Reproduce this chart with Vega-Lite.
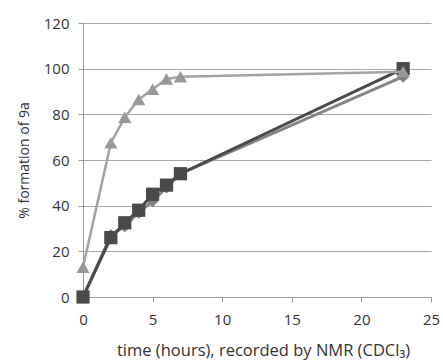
{
  "$schema": "https://vega.github.io/schema/vega-lite/v6.json",
  "width": 348,
  "height": 274,
  "autosize": {"type": "none"},
  "padding": {"left": 83, "top": 23, "right": 12, "bottom": 66},
  "background": "white",
  "config": {
    "view": {"stroke": null},
    "font": "Open Sans",
    "axis": {"labelFont": "Open Sans", "titleFont": "Open Sans", "labelColor": "#333", "titleColor": "#333", "titleFontWeight": "normal", "domainColor": "#999", "tickColor": "#999", "gridColor": "#a8a8a8", "gridWidth": 1, "labelFlush": false}
  },
  "data": {
    "values": [
      {"series": "diamond", "t": 0, "v": 0},
      {"series": "diamond", "t": 2, "v": 27},
      {"series": "diamond", "t": 3, "v": 31},
      {"series": "diamond", "t": 4, "v": 37},
      {"series": "diamond", "t": 5, "v": 42},
      {"series": "diamond", "t": 6, "v": 48},
      {"series": "diamond", "t": 7, "v": 54},
      {"series": "diamond", "t": 23, "v": 96.5},
      {"series": "square", "t": 0, "v": 0},
      {"series": "square", "t": 2, "v": 26},
      {"series": "square", "t": 3, "v": 32.5},
      {"series": "square", "t": 4, "v": 38},
      {"series": "square", "t": 5, "v": 45},
      {"series": "square", "t": 6, "v": 49},
      {"series": "square", "t": 7, "v": 54},
      {"series": "square", "t": 23, "v": 100},
      {"series": "triangle", "t": 0, "v": 13},
      {"series": "triangle", "t": 2, "v": 67.5},
      {"series": "triangle", "t": 3, "v": 78.7},
      {"series": "triangle", "t": 4, "v": 86.5},
      {"series": "triangle", "t": 5, "v": 91},
      {"series": "triangle", "t": 6, "v": 95.5},
      {"series": "triangle", "t": 7, "v": 96.5},
      {"series": "triangle", "t": 23, "v": 98.7}
    ]
  },
  "encoding": {
    "x": {"field": "t", "type": "quantitative", "scale": {"domain": [0, 25], "nice": false}, "axis": {"values": [0, 5, 10, 15, 20, 25], "grid": false, "tickSize": 5, "labelPadding": 10, "labelFontSize": 15, "title": "time (hours), recorded by NMR (CDCl₃)", "titleFontSize": 16.5, "titlePadding": 15, "titleX": 180}},
    "y": {"field": "v", "type": "quantitative", "scale": {"domain": [0, 120], "nice": false}, "axis": {"values": [0, 20, 40, 60, 80, 100, 120], "grid": true, "tickSize": 5, "labelPadding": 9, "labelFontSize": 15, "title": "% formation of 9a", "titleFontSize": 14, "titlePadding": 12}}
  },
  "layer": [
    {"transform": [{"filter": "datum.series === 'diamond'"}], "mark": {"type": "line", "color": "#858585", "strokeWidth": 3}},
    {"transform": [{"filter": "datum.series === 'diamond'"}], "mark": {"type": "point", "shape": "diamond", "filled": true, "color": "#808080", "size": 150, "opacity": 1}},
    {"transform": [{"filter": "datum.series === 'square'"}], "mark": {"type": "line", "color": "#4a4a4a", "strokeWidth": 3}},
    {"transform": [{"filter": "datum.series === 'square'"}], "mark": {"type": "point", "shape": "square", "filled": true, "color": "#4a4a4a", "size": 175, "opacity": 1}},
    {"transform": [{"filter": "datum.series === 'triangle'"}], "mark": {"type": "line", "color": "#a3a3a3", "strokeWidth": 2.5}},
    {"transform": [{"filter": "datum.series === 'triangle'"}], "mark": {"type": "point", "shape": "triangle-up", "filled": true, "color": "#999999", "size": 175, "opacity": 1}}
  ]
}
